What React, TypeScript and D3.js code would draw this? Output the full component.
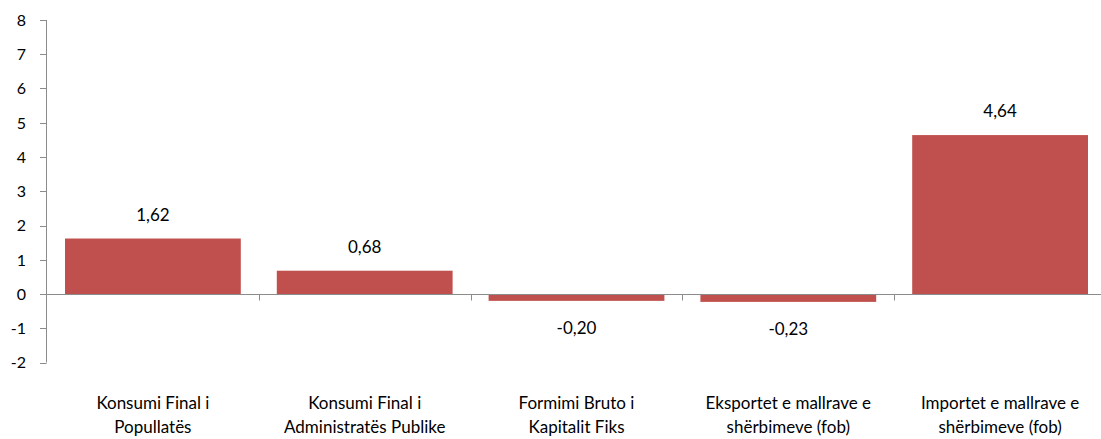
import React, { useEffect, useRef } from 'react';
import * as d3 from 'd3';

const categories = [
  ['Konsumi Final i', 'Popullatës'],
  ['Konsumi Final i', 'Administratës Publike'],
  ['Formimi Bruto i', 'Kapitalit Fiks'],
  ['Eksportet e mallrave e', 'shërbimeve (fob)'],
  ['Importet e mallrave e', 'shërbimeve (fob)'],
];
const values = [1.62, 0.68, -0.2, -0.23, 4.64];
const yTicks = [-2, -1, 0, 1, 2, 3, 4, 5, 6, 7, 8];

const App = () => {
  const ref = useRef<SVGSVGElement>(null);

  useEffect(() => {
    const svg = d3.select(ref.current);
    svg.selectAll('*').remove();
    const font = 'Lato, "Open Sans", sans-serif';
    const axisColor = '#8c8c8c';

    const x = d3.scaleBand<number>()
      .domain(values.map((_, i) => i))
      .range([47, 1106])
      .paddingInner(0.17)
      .paddingOuter(0.085);
    const y = d3.scaleLinear().domain([-2, 8]).range([362.5, 20]);

    const g = svg.append('g');

    // bars
    g.selectAll('.bar')
      .data(values)
      .enter().append('rect')
      .attr('x', (d, i) => x(i)!)
      .attr('width', x.bandwidth())
      .attr('y', d => y(Math.max(0, d)))
      .attr('height', d => Math.abs(y(d) - y(0)))
      .attr('fill', '#c0504d');

    // y axis
    g.append('line')
      .attr('x1', 46.5).attr('x2', 46.5)
      .attr('y1', y(8)).attr('y2', y(-2))
      .attr('stroke', axisColor);
    g.selectAll('.ytick')
      .data(yTicks)
      .enter().append('line')
      .attr('x1', 40).attr('x2', 46.5)
      .attr('y1', d => Math.round(y(d)) + 0.5)
      .attr('y2', d => Math.round(y(d)) + 0.5)
      .attr('stroke', axisColor);
    g.selectAll('.ylab')
      .data(yTicks)
      .enter().append('text')
      .attr('x', 26)
      .attr('y', d => y(d))
      .attr('dy', '0.36em')
      .attr('text-anchor', 'end')
      .attr('font-family', font)
      .attr('font-size', 16)
      .attr('fill', '#000')
      .text(d => String(d));

    // zero line and category ticks
    const y0 = Math.round(y(0)) + 0.5;
    g.append('line')
      .attr('x1', 40).attr('x2', 1106)
      .attr('y1', y0).attr('y2', y0)
      .attr('stroke', axisColor);
    const step = x.step();
    g.selectAll('.xtick')
      .data(d3.range(1, values.length))
      .enter().append('line')
      .attr('x1', i => Math.round(47 + i * step) + 0.5)
      .attr('x2', i => Math.round(47 + i * step) + 0.5)
      .attr('y1', y0).attr('y2', y0 + 6)
      .attr('stroke', axisColor);

    // value labels
    g.selectAll('.vlab')
      .data(values)
      .enter().append('text')
      .attr('x', (d, i) => x(i)! + x.bandwidth() / 2)
      .attr('y', d => d >= 0 ? y(d) - 18 : y(d) + 33)
      .attr('text-anchor', 'middle')
      .attr('font-family', font)
      .attr('font-size', 17)
      .attr('fill', '#000')
      .text(d => d.toFixed(2).replace('.', ','));

    // category labels
    const cl = g.selectAll('.clab')
      .data(categories)
      .enter().append('text')
      .attr('text-anchor', 'middle')
      .attr('font-family', font)
      .attr('font-size', 17)
      .attr('fill', '#000');
    cl.each(function (d, i) {
      const t = d3.select(this);
      d.forEach((line, j) => {
        t.append('tspan')
          .attr('x', x(i)! + x.bandwidth() / 2)
          .attr('y', 409 + j * 24)
          .text(line);
      });
    });
  }, []);

  return (
    <svg ref={ref} width={1101} height={439} style={{ display: 'block', position: 'absolute', left: 0, top: 0, background: '#fff' }} />
  );
};

export default App;
